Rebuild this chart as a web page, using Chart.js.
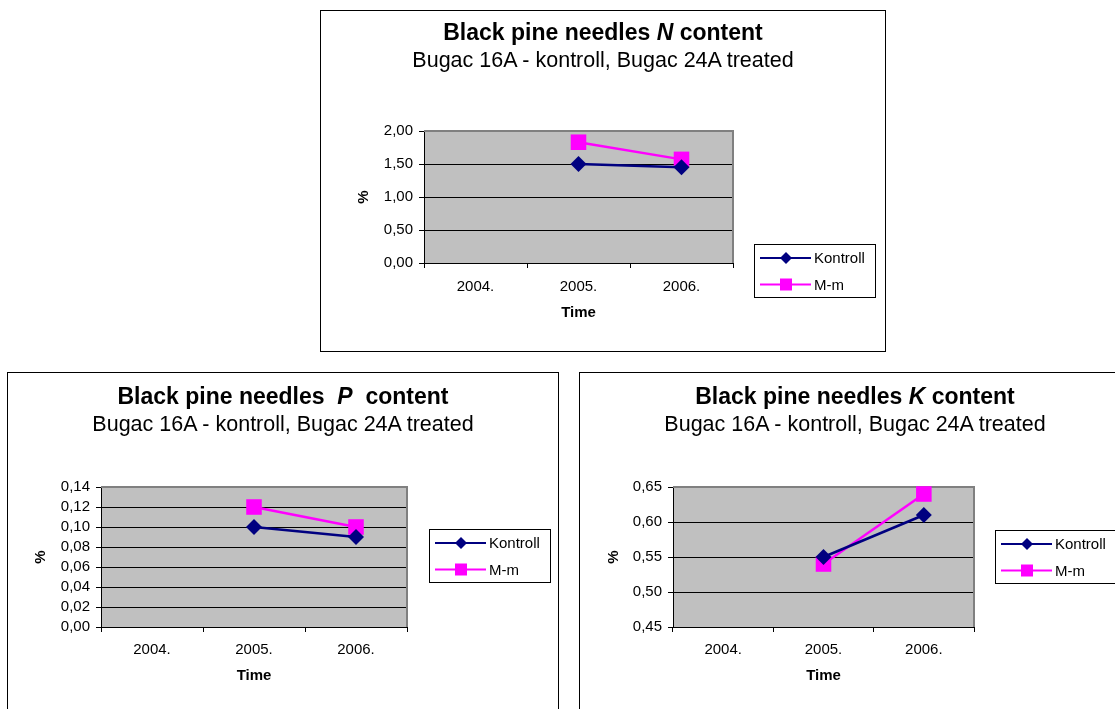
<!DOCTYPE html>
<html>
<head>
<meta charset="utf-8">
<script src="https://cdn.jsdelivr.net/npm/chart.js@4"></script>
<style>
  body { margin: 0; width: 1115px; height: 709px; overflow: hidden; position: relative; background: #fff;
         font-family: Arial, "Liberation Sans", sans-serif; }
  .frame { position: absolute; border: 1px solid #000; box-sizing: border-box; background: #fff; }
  canvas { position: absolute; }
  .ttl { position: absolute; text-align: center; white-space: pre; color: #000; }
  .ttl .main { font-weight: bold; font-size: 23px; line-height: 26px; }
  .ttl .sub { font-size: 21.5px; line-height: 26px; margin-top: 2px; }
</style>
</head>
<body>
<script>
// data
const years = ['2004.', '2005.', '2006.'];

const nKontroll = [null, 1.50, 1.45];
const nMm = [null, 1.83, 1.57];
const nTicks = [0, 0.5, 1.0, 1.5, 2.0];

const pKontroll = [null, 0.10, 0.09];
const pMm = [null, 0.12, 0.10];
const pTicks = [0, 0.02, 0.04, 0.06, 0.08, 0.10, 0.12, 0.14];

const kKontroll = [null, 0.55, 0.61];
const kMm = [null, 0.54, 0.64];
const kTicks = [0.45, 0.50, 0.55, 0.60, 0.65];

const subtitle = 'Bugac 16A - kontroll, Bugac 24A treated';

// page layout (px on the page)
const layouts = {
  N: { box: [320, 10, 566, 342], plot: [424, 131, 733, 263], yTitleX: 364, labelPad: 10, xTitleY: 313, legend: [754, 244, 122, 54], titleY: 22 },
  P: { box: [7, 372, 552, 345], plot: [101, 487, 407, 627], yTitleX: 41, labelPad: 9, xTitleY: 676, legend: [429, 529, 122, 54], titleY: 24 },
  K: { box: [579, 372, 552, 345], plot: [673, 487, 974, 627], yTitleX: 614, labelPad: 9, xTitleY: 676, legend: [995, 530, 122, 54], titleY: 24 }
};

const FONT = 'Arial, "Liberation Sans", sans-serif';
Chart.defaults.font.family = FONT;
Chart.defaults.color = '#000';

const plotFrame = {
  id: 'plotFrame',
  beforeDraw(chart) {
    const a = chart.chartArea, ctx = chart.ctx;
    ctx.save();
    ctx.fillStyle = '#c0c0c0';
    ctx.fillRect(a.left, a.top, a.right - a.left, a.bottom - a.top);
    ctx.restore();
  },
  beforeDatasetsDraw(chart) {
    const a = chart.chartArea, ctx = chart.ctx;
    ctx.save();
    ctx.strokeStyle = '#808080';
    ctx.lineWidth = 2;
    ctx.beginPath();
    ctx.moveTo(a.left, a.top);
    ctx.lineTo(a.right, a.top);
    ctx.lineTo(a.right, a.bottom);
    ctx.stroke();
    ctx.restore();
  }
};

const boxLegend = {
  id: 'boxLegend',
  afterDraw(chart, args, opts) {
    const ctx = chart.ctx;
    const [x, y, w, h] = opts.rect;
    ctx.save();
    ctx.fillStyle = '#fff';
    ctx.fillRect(x, y, w, h);
    ctx.strokeStyle = '#000';
    ctx.lineWidth = 1;
    ctx.strokeRect(x + 0.5, y + 0.5, w - 1, h - 1);
    chart.data.datasets.forEach((ds, i) => {
      const ry = y + 14 + i * 26.5;
      ctx.strokeStyle = ds.borderColor;
      ctx.lineWidth = 2;
      ctx.beginPath();
      ctx.moveTo(x + 6, ry);
      ctx.lineTo(x + 57, ry);
      ctx.stroke();
      ctx.fillStyle = ds.backgroundColor;
      const cx = x + 32;
      ctx.beginPath();
      if (ds.pointStyle === 'rectRot') {
        ctx.moveTo(cx, ry - 6);
        ctx.lineTo(cx + 6, ry);
        ctx.lineTo(cx, ry + 6);
        ctx.lineTo(cx - 6, ry);
        ctx.closePath();
      } else {
        ctx.rect(cx - 6, ry - 6, 12, 12);
      }
      ctx.fill();
      ctx.fillStyle = '#000';
      ctx.font = '15px ' + FONT;
      ctx.textBaseline = 'middle';
      ctx.fillText(ds.label, x + 60, ry + 1);
    });
    ctx.restore();
  }
};

const fmt = v => v.toFixed(2).replace('.', ',');

function buildChart(key, letterHtml, kontroll, mm, ticks) {
  const lay = layouts[key];
  const [bx, by, bw, bh] = lay.box;
  const [pl, pt, pr, pb] = lay.plot;

  const frame = document.createElement('div');
  frame.className = 'frame';
  Object.assign(frame.style, { left: bx + 'px', top: by + 'px', width: bw + 'px', height: bh + 'px' });
  document.body.appendChild(frame);

  const canvas = document.createElement('canvas');
  canvas.width = bw;
  canvas.height = bh;
  Object.assign(canvas.style, { left: bx + 'px', top: by + 'px' });
  document.body.appendChild(canvas);

  const ttl = document.createElement('div');
  ttl.className = 'ttl';
  Object.assign(ttl.style, { left: bx + 'px', top: (by + lay.titleY - 13) + 'px', width: bw + 'px' });
  ttl.innerHTML = '<div class="main">Black pine needles ' + letterHtml + ' content</div><div class="sub">' + subtitle + '</div>';
  document.body.appendChild(ttl);

  const xBottom = lay.xTitleY + 9;

  return new Chart(canvas, {
    type: 'line',
    data: {
      labels: years,
      datasets: [
        {
          label: 'Kontroll', data: kontroll,
          borderColor: '#000080', backgroundColor: '#000080', borderWidth: 2.5,
          pointStyle: 'rectRot', pointRadius: 8, pointBorderWidth: 0,
          clip: false, tension: 0
        },
        {
          label: 'M-m', data: mm,
          borderColor: '#ff00ff', backgroundColor: '#ff00ff', borderWidth: 2.5,
          pointStyle: 'rect', pointRadius: 11, pointBorderWidth: 0,
          clip: false, tension: 0
        }
      ]
    },
    options: {
      responsive: false,
      animation: false,
      events: [],
      layout: {
        padding: { left: 0, top: pt - by, right: bx + bw - pr, bottom: by + bh - xBottom }
      },
      plugins: {
        legend: { display: false },
        tooltip: { enabled: false },
        boxLegend: { rect: [lay.legend[0] - bx, lay.legend[1] - by, lay.legend[2], lay.legend[3]] }
      },
      scales: {
        x: {
          offset: true,
          afterFit: s => { s.height = xBottom - pb; },
          grid: { offset: true, drawOnChartArea: false, drawTicks: true, tickLength: 5, color: '#000' },
          border: { color: '#000', width: 1 },
          ticks: { padding: lay.labelPad, font: { size: 15 }, maxRotation: 0, autoSkip: false },
          title: { display: true, text: 'Time', font: { size: 15, weight: 'bold' }, padding: 0 }
        },
        y: {
          min: ticks[0],
          max: ticks[ticks.length - 1],
          afterFit: s => { s.width = pl - bx; },
          afterBuildTicks: s => { s.ticks = ticks.map(v => ({ value: v })); },
          grid: { color: '#000', lineWidth: 1, tickLength: 5 },
          border: { color: '#000', width: 1 },
          ticks: { padding: 6, font: { size: 15 }, callback: fmt, autoSkip: false },
          title: { display: true, text: '%', font: { size: 15, weight: 'bold' }, padding: { top: lay.yTitleX - bx - 9, bottom: 0 } }
        }
      }
    },
    plugins: [plotFrame, boxLegend]
  });
}

buildChart('N', '<i>N</i>', nKontroll, nMm, nTicks);
buildChart('P', '&nbsp;<i>P</i>&nbsp;', pKontroll, pMm, pTicks);
buildChart('K', '<i>K</i>', kKontroll, kMm, kTicks);
</script>
</body>
</html>
